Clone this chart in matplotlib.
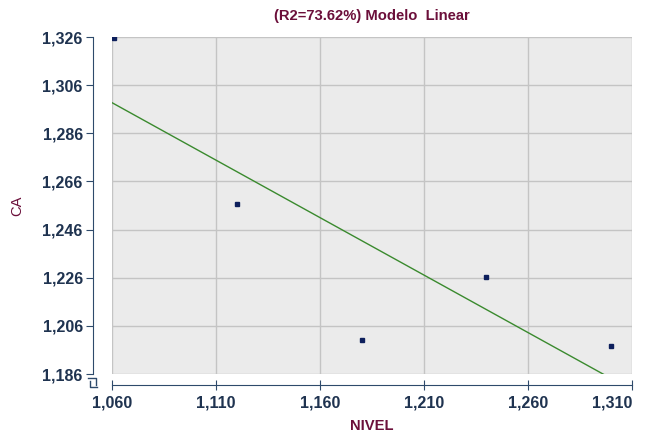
import numpy as np
import matplotlib.pyplot as plt
from matplotlib.ticker import FuncFormatter
from matplotlib.transforms import ScaledTranslation

# datos
nivel = [1061, 1120, 1180, 1240, 1300]
ca = [1325.5, 1256.8, 1200.2, 1226.4, 1197.7]
xticks = [1060, 1110, 1160, 1210, 1260, 1310]
yticks = [1186, 1206, 1226, 1246, 1266, 1286, 1306, 1326]

plt.rcParams['font.family'] = ['Liberation Sans', 'DejaVu Sans']

azul = '#2e4a6b'
granate = '#6b0f3a'

fig = plt.figure(figsize=(6.45, 4.36), dpi=100)
ax = fig.add_axes([112/645, 62/436, 520/645, 337/436])
ax.set_facecolor('#ebebeb')

# recta de regresion
m, b = np.polyfit(nivel, ca, 1)
xs = np.array([xticks[0], xticks[-1]])
ax.plot(xs, m*xs + b, color='#3a8a2e', lw=1.0, zorder=3)
ax.plot(nivel, ca, 's', color='#0d1f5c', ms=2.2, zorder=4)

ax.set_xlim(xticks[0], xticks[-1])
ax.set_ylim(yticks[0], yticks[-1])
ax.set_xticks(xticks)
ax.set_yticks(yticks)
fmt = FuncFormatter(lambda v, p: '{:,.0f}'.format(v))
ax.xaxis.set_major_formatter(fmt)
ax.yaxis.set_major_formatter(fmt)
ax.grid(True, color='#c4c4c4', lw=1.0)
ax.set_axisbelow(True)

for s in ['top', 'right']:
    ax.spines[s].set_visible(False)
ax.spines['left'].set_position(('outward', 14))
ax.spines['bottom'].set_position(('outward', 8))
ax.spines['left'].set_color(azul)
ax.spines['bottom'].set_color(azul)
ax.tick_params(axis='y', direction='out', length=5, color=azul, labelcolor='#1f3350', labelsize=11.5, pad=2)
ax.tick_params(axis='x', direction='inout', length=7, color=azul, labelcolor='#1f3350', labelsize=11.5, pad=4)
for t in ax.get_xticklabels() + ax.get_yticklabels():
    t.set_fontweight('bold')

# la ultima etiqueta del eje x se corre a la izquierda
ultima = ax.get_xticklabels()[-1]
ultima.set_transform(ultima.get_transform() + ScaledTranslation(-14/72, 0, fig.dpi_scale_trans))

# marca de corte del eje y
ax.plot([-0.046, -0.03, -0.03], [-0.012, -0.012, -0.032], color=azul, lw=1,
        transform=ax.transAxes, clip_on=False)
ax.plot([-0.042, -0.042, -0.028], [-0.02, -0.04, -0.04], color=azul, lw=1,
        transform=ax.transAxes, clip_on=False)

ax.set_title('(R2=73.62%) Modelo  Linear', color=granate, fontsize=10.6, fontweight='bold', pad=12)
ax.set_xlabel('NIVEL', color=granate, fontsize=10.6, fontweight='bold', labelpad=6)
ax.set_ylabel('CA', color=granate, fontsize=10.6)
ax.yaxis.set_label_coords(-0.168, 0.5)

fig.savefig('out.png', dpi=100)
